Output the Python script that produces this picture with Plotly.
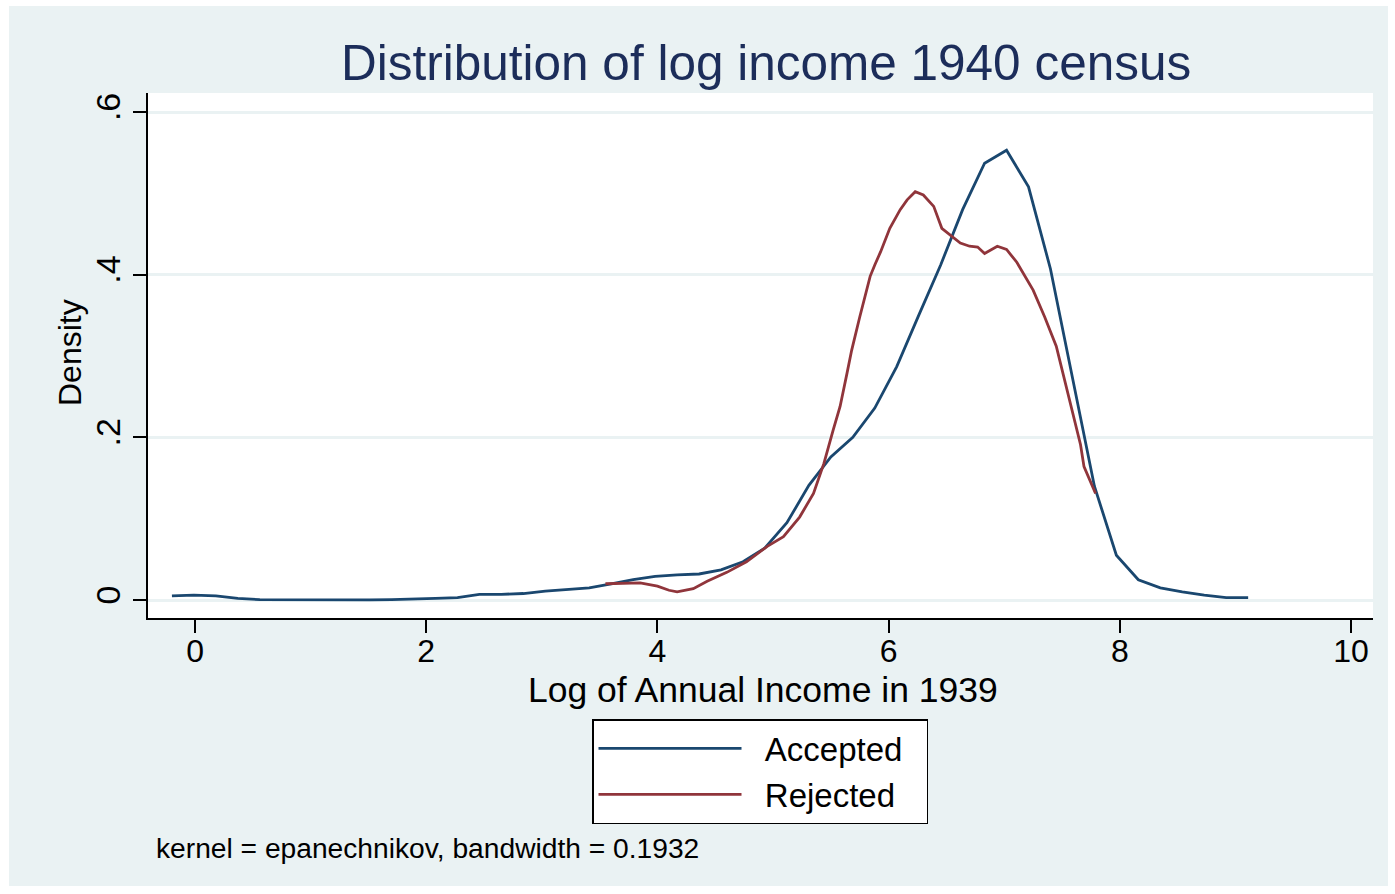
import plotly.graph_objects as go

# Kernel density estimates of log annual income (1939), evaluated on a grid
accepted_x = [-0.20, -0.01, 0.18, 0.37, 0.56, 0.75, 0.94, 1.13, 1.32, 1.51,
              1.70, 1.89, 2.08, 2.27, 2.46, 2.65, 2.84, 3.03, 3.22, 3.41,
              3.60, 3.79, 3.98, 4.17, 4.36, 4.55, 4.74, 4.93, 5.12, 5.31,
              5.50, 5.69, 5.88, 6.07, 6.26, 6.45, 6.64, 6.83, 7.02, 7.21,
              7.40, 7.59, 7.78, 7.97, 8.16, 8.35, 8.54, 8.73, 8.92, 9.11]
accepted_y = [0.005, 0.006, 0.005, 0.002, 0.0005, 0.0003, 0.0003, 0.0003, 0.0003, 0.0003,
              0.0005, 0.001, 0.002, 0.003, 0.007, 0.007, 0.008, 0.011, 0.013, 0.015,
              0.020, 0.025, 0.029, 0.031, 0.032, 0.037, 0.047, 0.064, 0.095, 0.141,
              0.176, 0.200, 0.236, 0.287, 0.350, 0.412, 0.480, 0.537, 0.553, 0.508,
              0.407, 0.272, 0.140, 0.055, 0.025, 0.015, 0.010, 0.006, 0.003, 0.003]

rejected_x = [3.55, 3.71, 3.85, 4.00, 4.10, 4.17, 4.31, 4.43, 4.60, 4.77,
              4.95, 5.09, 5.23, 5.35, 5.44, 5.52, 5.58, 5.64, 5.68, 5.75,
              5.84, 5.88, 5.93, 6.01, 6.10, 6.16, 6.23, 6.30, 6.39, 6.46, 6.53,
              6.62, 6.70, 6.77, 6.83, 6.94, 7.02, 7.11, 7.25, 7.35, 7.45,
              7.55, 7.66, 7.69, 7.73, 7.79]
rejected_y = [0.020, 0.021, 0.021, 0.017, 0.012, 0.010, 0.014, 0.023, 0.034, 0.047,
              0.066, 0.078, 0.102, 0.131, 0.168, 0.209, 0.238, 0.279, 0.307, 0.348,
              0.398, 0.412, 0.428, 0.457, 0.480, 0.492, 0.502, 0.498, 0.484, 0.457, 0.449,
              0.439, 0.435, 0.434, 0.426, 0.435, 0.431, 0.415, 0.381, 0.348, 0.312,
              0.256, 0.191, 0.164, 0.150, 0.131]

y_tick_vals = [0, 0.2, 0.4, 0.6]
y_tick_text = ["0", ".2", ".4", ".6"]
x_tick_vals = [0, 2, 4, 6, 8, 10]

BLUE = "#1A476F"
RED = "#90353B"
BG = "#EAF2F3"
FONT = "Liberation Sans, Arial, sans-serif"
NBSP = "\u00a0"

fig = go.Figure()
fig.add_trace(go.Scatter(x=accepted_x, y=accepted_y, mode="lines",
                         name=NBSP * 2 + "Accepted" + NBSP * 2,
                         line=dict(color=BLUE, width=2.8)))
fig.add_trace(go.Scatter(x=rejected_x, y=rejected_y, mode="lines",
                         name=NBSP * 2 + "Rejected" + NBSP * 2,
                         line=dict(color=RED, width=2.8)))

W, H = 1395, 894
L, R, T, B = 148, 22, 93, 276
pw, ph = W - L - R, H - T - B


def px_x(px):
    return (px - L) / pw


def px_y(py):
    return (H - B - py) / ph


shapes = [
    # outer graph region
    dict(type="rect", xref="paper", yref="paper", layer="below",
         x0=px_x(9), x1=px_x(1388), y0=px_y(886), y1=px_y(6),
         fillcolor=BG, line=dict(width=0)),
    # white plot region
    dict(type="rect", xref="paper", yref="paper", layer="below",
         x0=0, x1=1, y0=0, y1=1, fillcolor="white", line=dict(width=0)),
]

annotations = [
    dict(text="Distribution of log income 1940 census", xref="paper", yref="paper",
         x=px_x(766), y=px_y(63), xanchor="center", yanchor="middle", showarrow=False,
         font=dict(size=49.5, color="#1C2D5A", family=FONT)),
    dict(text="Density", xref="paper", yref="paper", x=px_x(70), y=px_y(353),
         xanchor="center", yanchor="middle", textangle=-90, showarrow=False,
         font=dict(size=32, color="black", family=FONT)),
    dict(text="Log of Annual Income in 1939", xref="paper", yref="paper",
         x=px_x(763), y=px_y(690), xanchor="center", yanchor="middle", showarrow=False,
         font=dict(size=35.5, color="black", family=FONT)),
    dict(text="kernel = epanechnikov, bandwidth = 0.1932", xref="paper", yref="paper",
         x=px_x(154), y=px_y(848), xanchor="left", yanchor="middle", showarrow=False,
         font=dict(size=28.2, color="black", family=FONT)),
]

fig.update_layout(
    width=W, height=H,
    margin=dict(l=L, r=R, t=T, b=B, autoexpand=False),
    paper_bgcolor="white",
    plot_bgcolor="rgba(0,0,0,0)",
    font=dict(family=FONT, color="black"),
    shapes=shapes,
    annotations=annotations,
    showlegend=True,
    legend=dict(x=px_x(592), y=px_y(719), xanchor="left", yanchor="top",
                bgcolor="white", bordercolor="black", borderwidth=1.5,
                font=dict(size=33, family=FONT, color="black"),
                itemwidth=143, tracegroupgap=0),
    xaxis=dict(range=[-0.407, 10.19], tickvals=x_tick_vals, showgrid=False,
               zeroline=False, showline=True, linecolor="black", linewidth=1.5,
               ticks="outside", ticklen=13, tickwidth=1.5, tickcolor="black",
               ticklabelstandoff=-9,
               tickfont=dict(size=32, family=FONT, color="black")),
    yaxis=dict(range=[-0.0221, 0.6234], tickvals=y_tick_vals, ticktext=y_tick_text,
               tickangle=-90, showgrid=True, gridcolor=BG, gridwidth=2.5,
               zeroline=False, showline=True, linecolor="black", linewidth=1.5,
               ticks="outside", ticklen=13, tickwidth=1.5, tickcolor="black",
               tickfont=dict(size=34, family=FONT, color="black")),
)

fig.write_html("out.html")
